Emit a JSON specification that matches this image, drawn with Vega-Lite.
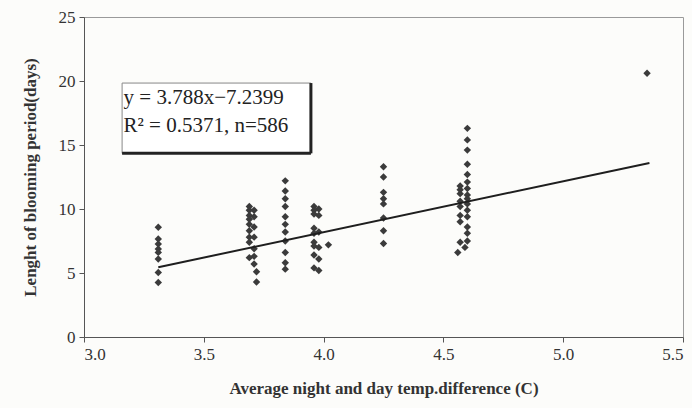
{
  "$schema": "https://vega.github.io/schema/vega-lite/v6.json",
  "width": 599,
  "height": 320,
  "autosize": {"type": "none"},
  "padding": {"left": 84, "top": 17, "right": 9, "bottom": 71},
  "background": "#fcfcfa",
  "config": {
    "font": "Liberation Serif",
    "view": {"stroke": "#9a9a9a", "strokeWidth": 1}
  },
  "datasets": {
    "points": [
      {"t": 3.31, "d": 8.57}, {"t": 3.31, "d": 7.66}, {"t": 3.31, "d": 7.27}, {"t": 3.31, "d": 6.88}, {"t": 3.31, "d": 6.61}, {"t": 3.31, "d": 6.09}, {"t": 3.31, "d": 5.04}, {"t": 3.31, "d": 4.26},
      {"t": 3.69, "d": 10.2}, {"t": 3.69, "d": 9.9}, {"t": 3.69, "d": 9.5}, {"t": 3.69, "d": 9.2}, {"t": 3.69, "d": 8.8}, {"t": 3.69, "d": 8.3}, {"t": 3.69, "d": 7.8}, {"t": 3.69, "d": 7.4}, {"t": 3.69, "d": 6.2},
      {"t": 3.71, "d": 9.9}, {"t": 3.71, "d": 9.4}, {"t": 3.71, "d": 8.6}, {"t": 3.71, "d": 7.8}, {"t": 3.71, "d": 6.9}, {"t": 3.71, "d": 6.3}, {"t": 3.71, "d": 5.7}, {"t": 3.72, "d": 5.1}, {"t": 3.72, "d": 4.3},
      {"t": 3.84, "d": 12.2}, {"t": 3.84, "d": 11.4}, {"t": 3.84, "d": 10.8}, {"t": 3.84, "d": 10.2}, {"t": 3.84, "d": 9.4}, {"t": 3.84, "d": 8.8}, {"t": 3.84, "d": 8.2}, {"t": 3.84, "d": 7.5}, {"t": 3.84, "d": 6.6}, {"t": 3.84, "d": 5.8}, {"t": 3.84, "d": 5.3},
      {"t": 3.96, "d": 10.2}, {"t": 3.96, "d": 9.9}, {"t": 3.96, "d": 9.6}, {"t": 3.96, "d": 8.5}, {"t": 3.96, "d": 8.1}, {"t": 3.96, "d": 7.4}, {"t": 3.96, "d": 7.1}, {"t": 3.96, "d": 6.4}, {"t": 3.96, "d": 5.4},
      {"t": 3.98, "d": 10.0}, {"t": 3.98, "d": 9.5}, {"t": 3.98, "d": 8.2}, {"t": 3.98, "d": 7.0}, {"t": 3.98, "d": 6.1}, {"t": 3.98, "d": 5.2},
      {"t": 4.02, "d": 7.2},
      {"t": 4.25, "d": 13.3}, {"t": 4.25, "d": 12.5}, {"t": 4.25, "d": 11.3}, {"t": 4.25, "d": 10.8}, {"t": 4.25, "d": 10.4}, {"t": 4.25, "d": 9.3}, {"t": 4.25, "d": 8.3}, {"t": 4.25, "d": 7.3},
      {"t": 4.57, "d": 11.8}, {"t": 4.57, "d": 11.5}, {"t": 4.57, "d": 11.2}, {"t": 4.57, "d": 10.6}, {"t": 4.57, "d": 10.2}, {"t": 4.57, "d": 9.5}, {"t": 4.57, "d": 9.0}, {"t": 4.57, "d": 7.4}, {"t": 4.56, "d": 6.6},
      {"t": 4.6, "d": 16.3}, {"t": 4.6, "d": 15.4}, {"t": 4.6, "d": 14.6}, {"t": 4.6, "d": 13.5}, {"t": 4.6, "d": 12.7}, {"t": 4.6, "d": 12.1}, {"t": 4.6, "d": 11.6}, {"t": 4.6, "d": 11.1}, {"t": 4.6, "d": 10.8}, {"t": 4.6, "d": 10.4}, {"t": 4.6, "d": 9.9}, {"t": 4.6, "d": 9.4}, {"t": 4.6, "d": 8.6}, {"t": 4.6, "d": 8.1}, {"t": 4.6, "d": 7.5}, {"t": 4.59, "d": 7.0},
      {"t": 5.35, "d": 20.6}
    ],
    "trend": [
      {"t": 3.31, "d": 5.45},
      {"t": 5.36, "d": 13.6}
    ],
    "box": [
      {"x1": 3.159, "x2": 3.947, "y1": 19.84, "y2": 14.35}
    ],
    "labels": [
      {"t": 3.165, "d": 18.66, "txt": "y = 3.788x−7.2399"},
      {"t": 3.165, "d": 16.46, "txt": "R² = 0.5371, n=586"}
    ]
  },
  "layer": [
    {
      "data": {"name": "points"},
      "mark": {"type": "point", "shape": "diamond", "filled": true, "size": 55, "color": "#3b3b3b", "opacity": 1},
      "encoding": {
        "x": {
          "field": "t", "type": "quantitative",
          "scale": {"domain": [3.0, 5.5], "nice": false, "zero": false},
          "axis": {
            "title": "Average night and day temp.difference (C)",
            "values": [3.0, 3.5, 4.0, 4.5, 5.0, 5.5],
            "format": ".1f",
            "grid": false,
            "domainColor": "#555", "tickColor": "#555", "tickSize": 5,
            "labelFont": "Liberation Serif", "labelFontSize": 17, "labelColor": "#333", "labelPadding": 4,
            "titleFont": "Liberation Serif", "titleFontSize": 17, "titleFontWeight": "bold", "titleColor": "#333", "titlePadding": 18
          }
        },
        "y": {
          "field": "d", "type": "quantitative",
          "scale": {"domain": [0, 25], "nice": false},
          "axis": {
            "title": "Lenght of blooming period(days)",
            "values": [0, 5, 10, 15, 20, 25],
            "grid": false,
            "domainColor": "#555", "tickColor": "#555", "tickSize": 5,
            "labelFont": "Liberation Serif", "labelFontSize": 17, "labelColor": "#333", "labelPadding": 4,
            "titleFont": "Liberation Serif", "titleFontSize": 17, "titleFontWeight": "bold", "titleColor": "#333", "titlePadding": 19
          }
        }
      }
    },
    {
      "data": {"name": "trend"},
      "mark": {"type": "line", "color": "#1e1e1e", "strokeWidth": 2},
      "encoding": {
        "x": {"field": "t", "type": "quantitative"},
        "y": {"field": "d", "type": "quantitative"}
      }
    },
    {
      "data": {"name": "box"},
      "mark": {"type": "rect", "fill": "#ffffff", "stroke": "#888", "strokeWidth": 1},
      "encoding": {
        "x": {"field": "x1", "type": "quantitative"},
        "x2": {"field": "x2"},
        "y": {"field": "y1", "type": "quantitative"},
        "y2": {"field": "y2"}
      }
    },
    {
      "data": {"name": "box"},
      "mark": {"type": "rule", "color": "#222", "strokeWidth": 3},
      "encoding": {
        "x": {"field": "x2", "type": "quantitative"},
        "y": {"field": "y1", "type": "quantitative"},
        "y2": {"field": "y2"}
      }
    },
    {
      "data": {"name": "box"},
      "mark": {"type": "rule", "color": "#222", "strokeWidth": 3},
      "encoding": {
        "x": {"field": "x1", "type": "quantitative"},
        "x2": {"field": "x2"},
        "y": {"field": "y2", "type": "quantitative"}
      }
    },
    {
      "data": {"name": "labels"},
      "mark": {"type": "text", "align": "left", "baseline": "middle", "font": "Liberation Serif", "fontSize": 21, "color": "#222"},
      "encoding": {
        "x": {"field": "t", "type": "quantitative"},
        "y": {"field": "d", "type": "quantitative"},
        "text": {"field": "txt"}
      }
    }
  ]
}
